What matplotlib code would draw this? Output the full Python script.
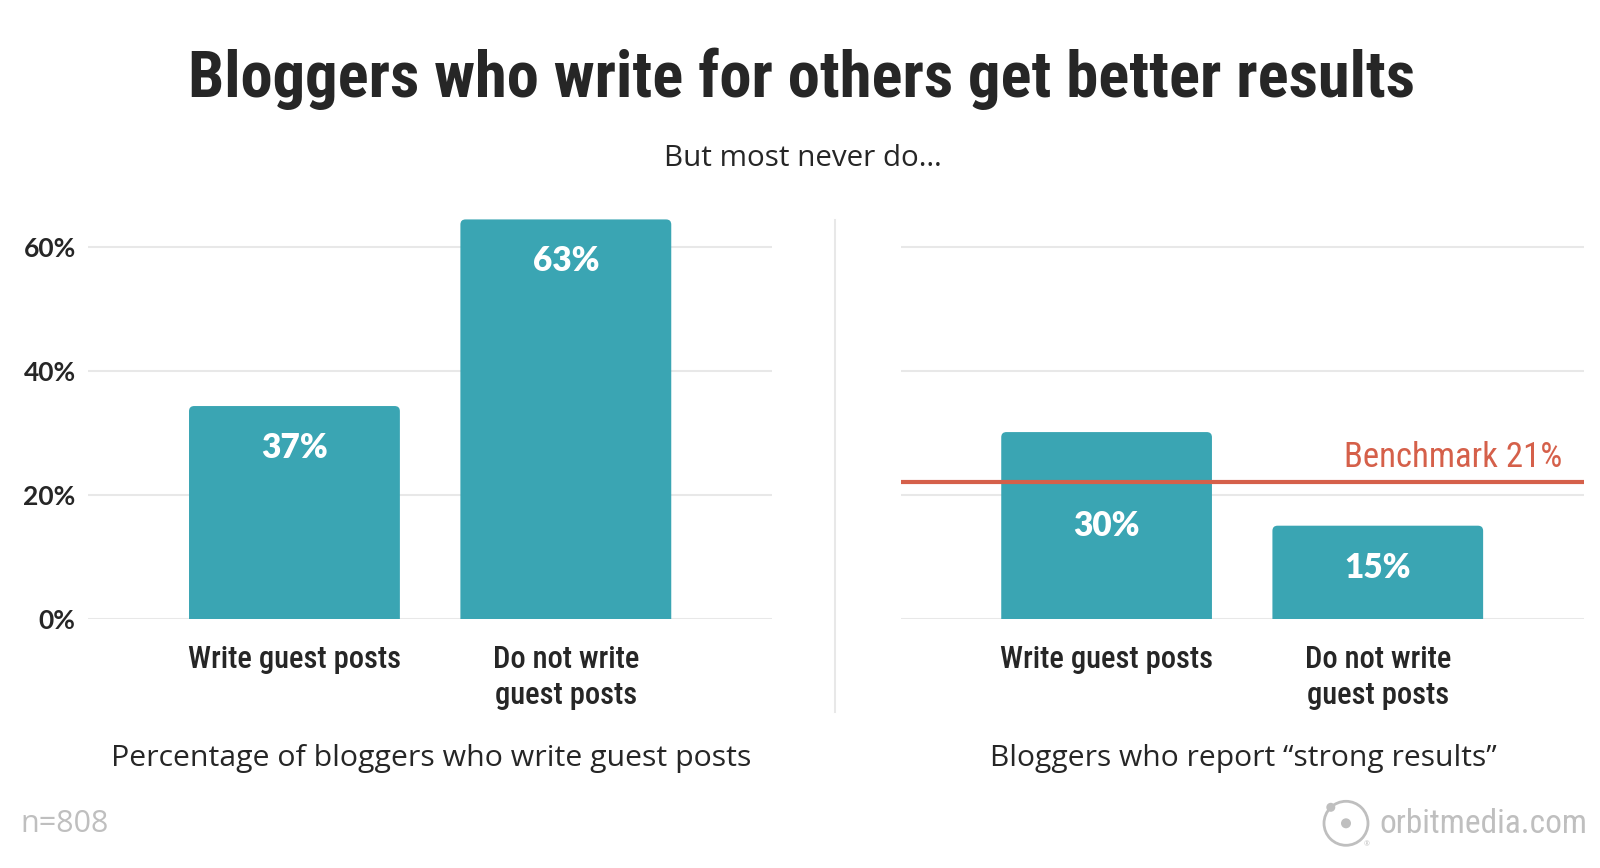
import matplotlib
matplotlib.use("Agg")
import matplotlib.pyplot as plt
from matplotlib.patches import FancyBboxPatch, Circle

# values
categories = ["Write guest posts", "Do not write\nguest posts"]
share_heights = [34.3, 64.4]          # where the bar tops sit
share_labels = ["37%", "63%"]
results_heights = [30.1, 15.0]
results_labels = ["30%", "15%"]
benchmark = 22.05
benchmark_label = "Benchmark 21%"
yticks = [0, 20, 40, 60]
ytick_labels = ["0%", "20%", "40%", "60%"]

W, H = 1600, 868
TEAL = "#3aa5b3"
RED = "#d5604a"
DARK = "#262626"
GRID = "#e8e8e8"
GRAY = "#bfbfbf"
COND = ["Roboto Condensed", "Asap Condensed", "Archivo Narrow", "Roboto",
        "DejaVu Sans"]
SANS = ["Open Sans", "Lato", "DejaVu Sans"]
BOLD = ["Lato", "Open Sans", "DejaVu Sans"]

fig = plt.figure(figsize=(W / 100, H / 100), dpi=100)

# vertical scale: 0% at 618.7 px, 6.2 px per percent
base_px = 618.7
ppu = 6.2
ymax = 65.0
top_px = base_px - ymax * ppu
step_px = 271.2          # distance between bar centres


def px_axes(x0, x1):
    return fig.add_axes([x0 / W, 1 - base_px / H, (x1 - x0) / W,
                         (base_px - top_px) / H])


def draw_panel(ax, heights, labels, show_y, line=None):
    x = list(range(len(heights)))
    ax.set_xlim(-0.76, 1.759)
    ax.set_ylim(0, ymax)
    bars = ax.bar(x, heights, width=0.777, color=TEAL, zorder=3)
    aspect = (1 / ppu) / (1 / step_px)
    for b, lab in zip(bars, labels):
        bx, bw, bh = b.get_x(), b.get_width(), b.get_height()
        b.remove()
        p = FancyBboxPatch((bx, -2), bw, bh + 2,
                           boxstyle="round,pad=0,rounding_size=0.019",
                           mutation_aspect=aspect, fc=TEAL, ec="none",
                           zorder=3, clip_on=True)
        ax.add_patch(p)
        ly = bh - 42 / ppu
        if line is not None and abs(ly - line) < 30 / ppu:
            ly = line - 44 / ppu
        ax.text(bx + bw / 2, ly, lab, ha="center", va="center",
                color="white", fontsize=24, fontweight="heavy",
                family=BOLD, zorder=4)
    ax.set_yticks(yticks)
    ax.grid(axis="y", color=GRID, lw=1.5, zorder=0)
    ax.set_axisbelow(True)
    for s in ax.spines.values():
        s.set_visible(False)
    ax.set_xticks(x)
    ax.set_xticklabels(categories, family=COND, fontsize=22, color=DARK,
                       linespacing=1.3, fontweight="medium")
    ax.tick_params(axis="x", length=0, pad=19)
    if show_y:
        ax.set_yticklabels(ytick_labels, family=BOLD, fontsize=19,
                           color=DARK, fontweight="bold")
        ax.tick_params(axis="y", length=0, pad=9)
    else:
        ax.tick_params(axis="y", length=0, labelleft=False)


ax1 = px_axes(88.2, 771.8)
draw_panel(ax1, share_heights, share_labels, True)
ax2 = px_axes(900.5, 1583.6)
draw_panel(ax2, results_heights, results_labels, False, line=benchmark)

ax2.axhline(benchmark, color=RED, lw=3, zorder=5, solid_capstyle="round")
ax2.text(1562.6, H - 467.3, benchmark_label, transform=None, ha="right",
         va="baseline", color=RED, fontsize=25, family=COND)


def ftext(x, y, s, **kw):
    fig.text(x / W, 1 - y / H, s, **kw)


ftext(802, 96.7, "Bloggers who write for others get better results",
      ha="center", va="baseline", fontsize=46.5, fontweight="black",
      family=COND, color=DARK)
ftext(803, 165.7, "But most never do…", ha="center", va="baseline",
      fontsize=21.3, family=SANS, color=DARK)
ftext(430.8, 765.7, "Percentage of bloggers who write guest posts",
      ha="center", va="baseline", fontsize=21.8, family=SANS, color=DARK)
ftext(1243.6, 765.7, "Bloggers who report \u201cstrong results\u201d",
      ha="center", va="baseline", fontsize=21.6, family=SANS, color=DARK)
ftext(20.5, 831.7, "n=808", ha="left", va="baseline", fontsize=22,
      family=SANS, color=GRAY)
ftext(1379.5, 833, "orbitmedia.com", ha="left", va="baseline", fontsize=24,
      family=COND, color=GRAY)
ftext(1366.7, 845, "\u00ae", ha="center", va="center", fontsize=5,
      family=SANS, color=GRAY)

# divider between the two panels
fig.add_artist(plt.Line2D([835 / W, 835 / W], [1 - 220 / H, 1 - 711.7 / H],
                          color=GRID, lw=1.5))

# orbit logo
fig.add_artist(Circle((1346, H - 823.3), 22, fill=False, ec=GRAY, lw=2,
                      transform=None))
fig.add_artist(Circle((1346, H - 823.3), 5, fc=GRAY, ec="none",
                      transform=None))
fig.add_artist(Circle((1330.8, H - 807.3), 4.5, fc=GRAY, ec="none",
                      transform=None))

fig.savefig("out.png", dpi=100, facecolor="white")
